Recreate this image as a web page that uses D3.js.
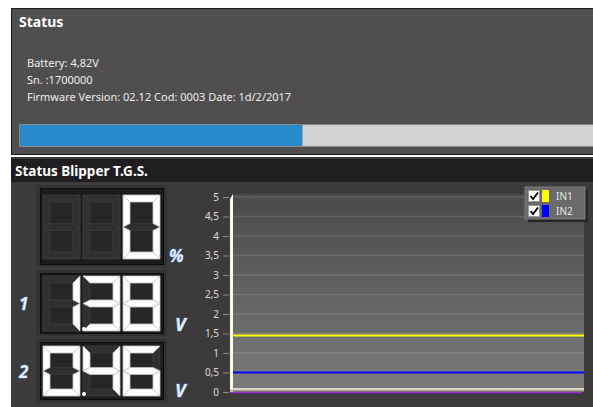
<!DOCTYPE html>
<html>
<head>
<meta charset="utf-8">
<script src="https://cdn.jsdelivr.net/npm/d3@7"></script>
<style>
  body { margin: 0; background: #ffffff; }
  svg { display: block; font-family: "Noto Sans", "Open Sans", sans-serif; }
</style>
</head>
<body>
<svg id="main" width="593" height="407"></svg>
<script>

// ---- data ----
let status_lines = ["Battery: 4,82V", "Sn. :1700000", "Firmware Version: 02.12 Cod: 0003 Date: 1d/2/2017"]
let progress = [0.493]
let display_values = ["0", "1.38", "0.46"]
let display_units = ["%", "V", "V"]
let display_labels = ["", "1", "2"]
let y_ticks = [0, 0.5, 1, 1.5, 2, 2.5, 3, 3.5, 4, 4.5, 5]
let series_names = ["IN1", "IN2"]
let series_colors = ["#ffff00", "#0000ff"]
let in1 = [1.45, 1.45]
let in2 = [0.5, 0.5]

let svg = d3.select('#main')

// ---- top "Status" panel ----
svg.append('rect').attr('x', 0).attr('y', 0).attr('width', 593).attr('height', 407).attr('fill', '#ffffff')
svg.append('rect').attr('x', 11).attr('y', 157).attr('width', 582).attr('height', 250).attr('fill', '#3c3a3b')
svg.append('rect').attr('x', 11.5).attr('y', 8.5).attr('width', 590).attr('height', 146)
    .attr('fill', '#504e4f').attr('stroke', '#1a1a1a')

svg.append('text').attr('x', 19).attr('y', 27)
    .attr('fill', '#ffffff').attr('font-weight', 'bold').attr('font-size', 14)
    .text('Status')

svg.selectAll('.status_line').data(status_lines).enter()
    .append('text')
        .attr('class', 'status_line')
        .attr('x', 27)
        .attr('y', (d, i) => 67 + i * 17)
        .attr('fill', '#eeeeee').attr('font-size', 11)
        .text(d => d)

let bar = d3.scaleLinear().domain([0, 1]).range([20, 593])
svg.append('rect').attr('x', 19.5).attr('y', 124.5).attr('width', 580).attr('height', 22)
    .attr('fill', '#d1d2d4').attr('stroke', '#8a8a8a')
svg.selectAll('.prog').data(progress).enter()
    .append('rect').attr('class', 'prog')
        .attr('x', bar(0)).attr('y', 125)
        .attr('width', d => bar(d) - bar(0)).attr('height', 21)
        .attr('fill', '#2a8bcc')

// ---- second panel header ----
svg.append('rect').attr('x', 11).attr('y', 159).attr('width', 582).attr('height', 23).attr('fill', '#1f1d1f')
svg.append('text').attr('x', 15).attr('y', 176)
    .attr('fill', '#ffffff').attr('font-weight', 'bold').attr('font-size', 13.5)
    .text('Status Blipper T.G.S.')

// ---- seven segment displays ----
let seg_map = { "0": "abcdef", "1": "bc", "2": "abdeg", "3": "abcdg", "4": "bcfg",
                "5": "acdfg", "6": "acdefg", "7": "abc", "8": "abcdefg", "9": "abcdfg", " ": "" }

function segments(x0, y0, w, h, t) {
    let m = y0 + h / 2
    return {
        a: [[x0, y0], [x0 + w, y0], [x0 + w - t, y0 + t], [x0 + t, y0 + t]],
        b: [[x0 + w, y0], [x0 + w, m], [x0 + w - t, m - t / 2], [x0 + w - t, y0 + t]],
        c: [[x0 + w, m], [x0 + w, y0 + h], [x0 + w - t, y0 + h - t], [x0 + w - t, m + t / 2]],
        d: [[x0, y0 + h], [x0 + w, y0 + h], [x0 + w - t, y0 + h - t], [x0 + t, y0 + h - t]],
        e: [[x0, m], [x0 + t, m + t / 2], [x0 + t, y0 + h - t], [x0, y0 + h]],
        f: [[x0, y0], [x0 + t, y0 + t], [x0 + t, m - t / 2], [x0, m]],
        g: [[x0, m], [x0 + t, m - t / 2], [x0 + w - t, m - t / 2], [x0 + w, m], [x0 + w - t, m + t / 2], [x0 + t, m + t / 2]]
    }
}

let displays = [
    { box: [36, 185, 131, 82], digit_y: 195, digit_h: 64 },
    { box: [36, 270, 131, 66], digit_y: 276, digit_h: 55 },
    { box: [36, 339, 131, 63], digit_y: 346, digit_h: 50 }
]

displays.forEach((disp, k) => {
    let g = svg.append('g')
    let [bx, by, bw, bh] = disp.box
    g.append('rect').attr('x', bx).attr('y', by).attr('width', bw).attr('height', bh)
        .attr('rx', 2).attr('fill', '#333132')
    g.append('rect').attr('x', bx + 4.5).attr('y', by + 3.5).attr('width', bw - 8).attr('height', bh - 6)
        .attr('fill', '#1b1b1b').attr('stroke', '#0c0c0c')

    let txt = display_values[k]
    let chars = txt.replace('.', '')
    while (chars.length < 3) chars = ' ' + chars
    let dp = txt.indexOf('.') >= 0 ? txt.indexOf('.') + (3 - txt.replace('.', '').length) : -1

    chars.split('').forEach((ch, j) => {
        let x0 = 43 + j * 40
        let segs = segments(x0, disp.digit_y, 37, disp.digit_h, 7)
        let on = seg_map[ch]
        g.append('rect').attr('x', x0).attr('y', disp.digit_y).attr('width', 37).attr('height', disp.digit_h)
            .attr('fill', '#262626')
        // unlit segments first, lit ones on top
        let keys = Object.keys(segs).sort((p, q) => (on.indexOf(p) >= 0) - (on.indexOf(q) >= 0))
        keys.forEach(s => {
            let lit = on.indexOf(s) >= 0
            g.append('polygon')
                .attr('points', segs[s].map(p => p.join(',')).join(' '))
                .attr('fill', lit ? '#ffffff' : '#303030')
                .attr('stroke', lit ? '#c4c4c4' : '#3c3c3c')
                .attr('stroke-width', 0.8)
        })
    })
    if (dp > 0) {
        g.append('circle').attr('cx', 43 + dp * 40 + 1).attr('cy', disp.digit_y + disp.digit_h - 2)
            .attr('r', 2).attr('fill', '#ffffff')
    }

    g.append('text').attr('x', k == 0 ? 169 : 175).attr('y', by + bh - 5)
        .attr('fill', '#e8eefa').attr('font-style', 'italic').attr('font-weight', 'bold')
        .attr('font-size', k == 0 ? 17 : 18)
        .style('paint-order', 'stroke').attr('stroke', '#3f6fb8').attr('stroke-width', 1)
        .text(display_units[k])
    if (display_labels[k]) {
        g.append('text').attr('x', 19).attr('y', by + bh / 2 + 7)
            .attr('fill', '#e8eefa').attr('font-style', 'italic').attr('font-weight', 'bold').attr('font-size', 17)
            .style('paint-order', 'stroke').attr('stroke', '#3f6fb8').attr('stroke-width', 1)
            .text(display_labels[k])
    }
})

// ---- line chart ----
let x = d3.scaleLinear().domain([0, 1]).range([233, 584])
let y = d3.scaleLinear().domain([0, 5]).range([392, 197])

let defs = svg.append('defs')
let grad = defs.append('linearGradient').attr('id', 'plotfill').attr('x1', 0).attr('y1', 0).attr('x2', 0).attr('y2', 1)
grad.append('stop').attr('offset', '0%').attr('stop-color', '#4a4a4a')
grad.append('stop').attr('offset', '100%').attr('stop-color', '#7b7b7b')

let chart = svg.append('g')
chart.append('rect').attr('x', x(0)).attr('y', y(5) - 3)
    .attr('width', x(1) - x(0)).attr('height', y(0) - y(5) + 3)
    .attr('fill', 'url(#plotfill)')

chart.selectAll('.grid').data(y_ticks.slice(1)).enter()
    .append('line').attr('class', 'grid')
        .attr('x1', x(0)).attr('x2', x(1))
        .attr('y1', d => y(d)).attr('y2', d => y(d))
        .attr('stroke', '#ffffff').attr('stroke-opacity', 0.13).attr('stroke-width', 1.5)

// left wall and floor edges
chart.append('path')
    .attr('d', 'M' + (x(0) - 3) + ',' + (y(5) + 2) + 'L' + x(0) + ',' + (y(5) - 3) + 'L' + x(0) + ',' + y(0) + 'L' + (x(0) - 3) + ',' + y(0) + 'Z')
    .attr('fill', '#fdfde6')
chart.append('line').attr('x1', x(0) - 3).attr('x2', x(1)).attr('y1', y(0) - 3).attr('y2', y(0) - 3)
    .attr('stroke', '#f4f4ea').attr('stroke-width', 1.5)
chart.append('line').attr('x1', x(0) - 3).attr('x2', x(1)).attr('y1', y(0) - 1.5).attr('y2', y(0) - 1.5)
    .attr('stroke', '#a8a860').attr('stroke-width', 1)
chart.append('line').attr('x1', x(0) - 3).attr('x2', x(1) - 2).attr('y1', y(0) + 0.5).attr('y2', y(0) + 0.5)
    .attr('stroke', '#9b30d8').attr('stroke-width', 1.5)

let axis = chart.append('g')
    .attr('transform', 'translate(229,0)')
    .call(d3.axisLeft(y).tickValues(y_ticks).tickSize(6)
        .tickFormat(d => String(d).replace('.', ',')))
axis.select('.domain').remove()
axis.selectAll('.tick line').attr('stroke', '#8a8a8a')
axis.selectAll('.tick text').attr('fill', '#dcdcdc').attr('font-size', 10)
    .attr('font-family', '"Noto Sans", sans-serif').attr('x', -10)

let lineFunc = d3.line().x((d, i) => x(i)).y(d => y(d))
;[in1, in2].forEach((data, i) => {
    chart.append('path')
        .attr('fill', 'none').attr('stroke', series_colors[i]).attr('stroke-width', 2)
        .attr('d', lineFunc(data))
})

// legend
let lg = chart.append('g').attr('transform', 'translate(525,187)')
lg.append('rect').attr('x', 3).attr('y', 3).attr('width', 60).attr('height', 32).attr('fill', '#252525')
lg.append('rect').attr('x', 0).attr('y', 0).attr('width', 60).attr('height', 32)
    .attr('fill', '#6a6a6a').attr('stroke', '#7c7c7c')
series_names.forEach((name, i) => {
    let row = lg.append('g').attr('transform', 'translate(0,' + (3 + i * 15) + ')')
    row.append('rect').attr('x', 3.5).attr('y', 0.5).attr('width', 11).attr('height', 11)
        .attr('fill', '#ffffff').attr('stroke', '#9a9a9a')
    row.append('path').attr('d', 'M5.5,6 L8,9 L13,2.5').attr('fill', 'none').attr('stroke', '#000').attr('stroke-width', 1.8)
    row.append('rect').attr('x', 17).attr('y', 0).attr('width', 7).attr('height', 12).attr('fill', series_colors[i])
    row.append('text').attr('x', 31).attr('y', 10).attr('fill', '#e6e6e6').attr('font-size', 10).text(name)
})

</script>
</body>
</html>
